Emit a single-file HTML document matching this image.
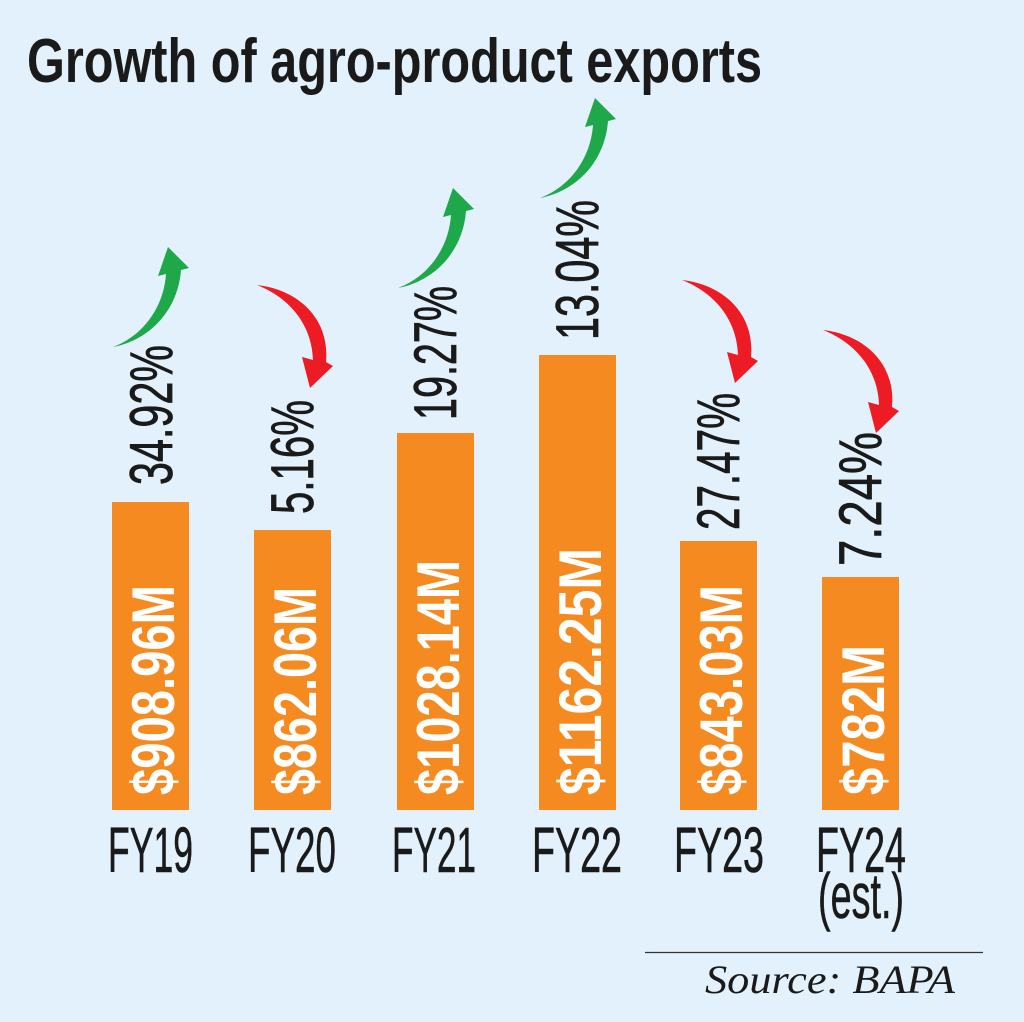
<!DOCTYPE html>
<html><head><meta charset="utf-8"><style>
html,body{margin:0;padding:0;background:#e2f1fb;}
svg{display:block}
</style></head><body>
<svg width="1024" height="1022" viewBox="0 0 1024 1022" xmlns="http://www.w3.org/2000/svg">
<rect width="1024" height="1022" fill="#e2f1fb"/>
<text x="27" y="82" font-family="Liberation Sans, sans-serif" font-weight="bold" font-size="62" fill="#1a1a1a" textLength="735" lengthAdjust="spacingAndGlyphs">Growth of agro-product exports</text>
<defs>
<path id="up" d="M113,347 C150,340 178,310 181,270 L189,268 L168,247 L158,276 L166,274 C164,305 145,335 113,347 Z" fill="#1ea84a"/>
<path id="dn" d="M257,285 C300,290 330,320 326,362 L333,366 L310,388 L302,357 L313,360 C312,325 290,298 257,285 Z" fill="#ed1c24"/>
</defs>
<use href="#up"/>
<use href="#up" transform="translate(285,-59)"/>
<use href="#up" transform="translate(427,-149)"/>
<use href="#dn"/>
<use href="#dn" transform="translate(425,-5)"/>
<use href="#dn" transform="translate(566,45)"/>
<g fill="#f58a20">
<rect x="112" y="502" width="77" height="308"/>
<rect x="254" y="530" width="77" height="280"/>
<rect x="397" y="433" width="77" height="377"/>
<rect x="539" y="355" width="77" height="455"/>
<rect x="680" y="541" width="77" height="269"/>
<rect x="822" y="577" width="77" height="233"/>
</g>
<g font-family="Liberation Sans, sans-serif" font-size="60" fill="#1a1a1a" stroke="#1a1a1a" stroke-width="0.8">
<text transform="translate(172,485) rotate(-90)" textLength="140" lengthAdjust="spacingAndGlyphs">34.92%</text>
<text transform="translate(313,514) rotate(-90)" textLength="114" lengthAdjust="spacingAndGlyphs">5.16%</text>
<text transform="translate(456,420) rotate(-90)" textLength="134" lengthAdjust="spacingAndGlyphs">19.27%</text>
<text transform="translate(598,340) rotate(-90)" textLength="140" lengthAdjust="spacingAndGlyphs">13.04%</text>
<text transform="translate(739,530) rotate(-90)" textLength="137" lengthAdjust="spacingAndGlyphs">27.47%</text>
<text transform="translate(881,566) rotate(-90)" textLength="134" lengthAdjust="spacingAndGlyphs">7.24%</text>
</g>
<g font-family="Liberation Sans, sans-serif" font-weight="bold" font-size="60" fill="#ffffff">
<text transform="translate(174,795) rotate(-90)" textLength="210" lengthAdjust="spacingAndGlyphs">$908.96M</text>
<text transform="translate(316,795) rotate(-90)" textLength="208" lengthAdjust="spacingAndGlyphs">$862.06M</text>
<text transform="translate(459,795) rotate(-90)" textLength="235" lengthAdjust="spacingAndGlyphs">$1028.14M</text>
<text transform="translate(601,795) rotate(-90)" textLength="247" lengthAdjust="spacingAndGlyphs">$1162.25M</text>
<text transform="translate(742,795) rotate(-90)" textLength="210" lengthAdjust="spacingAndGlyphs">$843.03M</text>
<text transform="translate(884,795) rotate(-90)" textLength="150" lengthAdjust="spacingAndGlyphs">$782M</text>
</g>
<g font-family="Liberation Sans, sans-serif" font-size="64" fill="#1a1a1a" stroke="#1a1a1a" stroke-width="0.6">
<text x="108" y="872" textLength="85" lengthAdjust="spacingAndGlyphs">FY19</text>
<text x="248" y="872" textLength="88" lengthAdjust="spacingAndGlyphs">FY20</text>
<text x="392" y="872" textLength="84" lengthAdjust="spacingAndGlyphs">FY21</text>
<text x="532" y="872" textLength="90" lengthAdjust="spacingAndGlyphs">FY22</text>
<text x="674" y="872" textLength="90" lengthAdjust="spacingAndGlyphs">FY23</text>
<text x="816" y="872" textLength="90" lengthAdjust="spacingAndGlyphs">FY24</text>
<text x="818" y="918" textLength="86" lengthAdjust="spacingAndGlyphs">(est.)</text>
</g>
<line x1="645" y1="952.5" x2="983" y2="952.5" stroke="#333" stroke-width="1.2"/>
<text x="705" y="993" font-family="Liberation Serif, serif" font-style="italic" font-size="40" fill="#1a1a1a" textLength="250" lengthAdjust="spacingAndGlyphs">Source: BAPA</text>
</svg>
</body></html>
